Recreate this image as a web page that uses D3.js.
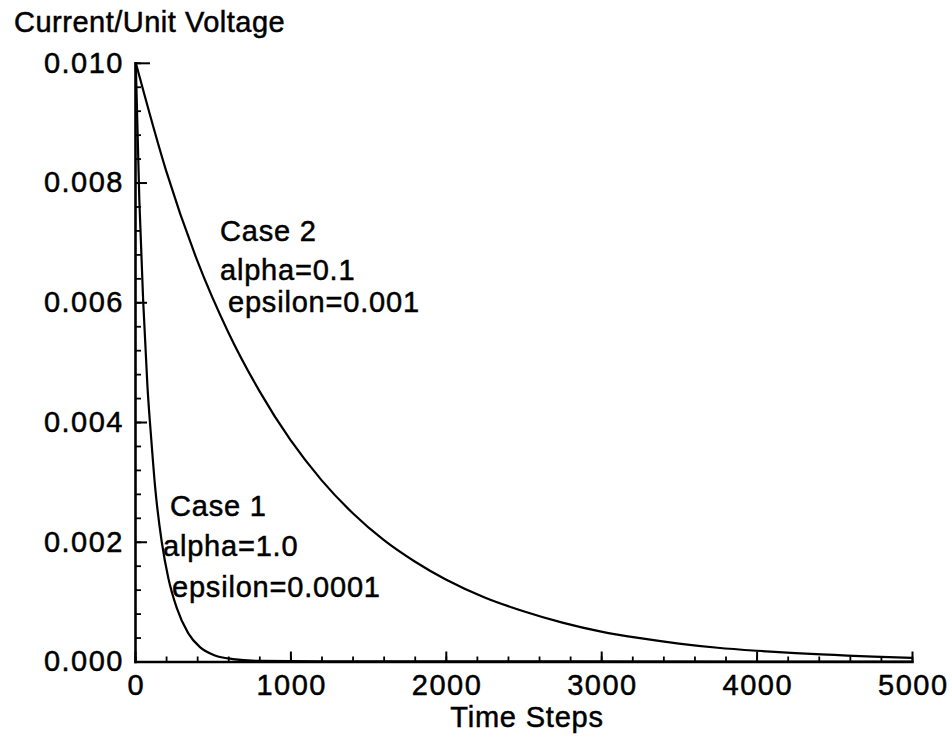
<!DOCTYPE html>
<html>
<head>
<meta charset="utf-8">
<script src="https://cdn.jsdelivr.net/npm/d3@7"></script>
<style>
  html, body { margin: 0; padding: 0; background: #fff; }
  svg text { font-family: "Liberation Sans", Arial, Helvetica, sans-serif; fill: #000;
             stroke: #000; stroke-width: 0.5px; letter-spacing: 0.8px; }
</style>
</head>
<body>
<svg id="chart" width="952" height="740"></svg>
<script>
// Case 1: alpha = 1.0, epsilon = 0.0001 (fast decay)
const case1Steps   = [5, 28, 53, 80, 105, 130, 172, 214, 268, 343, 418, 515, 631, 800, 1200, 5000];
const case1Current = [0.0100, 0.00770, 0.00600, 0.00460, 0.00370, 0.00290, 0.00200, 0.00140,
                      0.00090, 0.00047, 0.00024, 0.00010, 0.00004, 0.00001, 0.000002, 0];

// Case 2: alpha = 0.1, epsilon = 0.001 (slow decay)
const case2Steps   = [5, 200, 400, 600, 800, 1000, 1200, 1400, 1600, 1800, 2000, 2250, 2500,
                      2750, 3000, 3250, 3500, 3750, 4000, 4250, 4500, 4750, 5000];
const case2Current = [0.0100, 0.00820, 0.00670, 0.00550, 0.00452, 0.00370, 0.00303, 0.00248,
                      0.00203, 0.00167, 0.00137, 0.00107, 0.00084, 0.00065, 0.00050, 0.00039,
                      0.00030, 0.00023, 0.00018, 0.00014, 0.00011, 0.00008, 0.00006];

const xTickValues = [0, 1000, 2000, 3000, 4000, 5000];
const xMinorTicks = d3.range(0, 5001, 200);
const yTickValues = [0, 0.002, 0.004, 0.006, 0.008, 0.010];
const yMinorTicks = d3.range(0, 51, 2).map(i => i * 0.0002);

const yAxisTitle = "Current/Unit Voltage";
const xAxisTitle = "Time Steps";
const case1Notes = ["Case 1", "alpha=1.0", "epsilon=0.0001"];
const case2Notes = ["Case 2", "alpha=0.1", "epsilon=0.001"];

const svg = d3.select("#chart");
const fontSize = 29;

const x = d3.scaleLinear().domain([0, 5000]).range([135, 912]);
const y = d3.scaleLinear().domain([0, 0.010]).range([661.5, 62.8]);

// minor ticks, pointing into the plot
const yMinor = svg.append("g").attr("transform", `translate(${x(0)},0)`)
  .call(d3.axisLeft(y).tickValues(yMinorTicks).tickFormat("").tickSizeInner(-6).tickSizeOuter(0));
yMinor.select(".domain").remove();
yMinor.selectAll("line").attr("stroke", "#000").attr("stroke-width", 1.8);

const xMinor = svg.append("g").attr("transform", `translate(0,${y(0)})`)
  .call(d3.axisBottom(x).tickValues(xMinorTicks).tickFormat("").tickSizeInner(-5).tickSizeOuter(0));
xMinor.select(".domain").remove();
xMinor.selectAll("line").attr("stroke", "#000").attr("stroke-width", 1.8);

// major axes
const yAxis = svg.append("g").attr("transform", `translate(${x(0)},0)`)
  .call(d3.axisLeft(y).tickValues(yTickValues).tickFormat(d3.format(".3f"))
    .tickSizeInner(-12).tickSizeOuter(0).tickPadding(11));
const xAxis = svg.append("g").attr("transform", `translate(0,${y(0)})`)
  .call(d3.axisBottom(x).tickValues(xTickValues).tickFormat(d3.format("d"))
    .tickSizeInner(-10).tickSizeOuter(0).tickPadding(13));

// the top tick of the vertical axis runs a little further in
yAxis.selectAll(".tick").filter(d => d === 0.010).select("line").attr("x2", 15);

[yAxis, xAxis].forEach(g => {
  g.select(".domain").attr("stroke", "#000").attr("stroke-width", 2.6).attr("stroke-linecap", "square");
  g.selectAll(".tick line").attr("stroke", "#000").attr("stroke-width", 2);
  g.selectAll(".tick text").attr("font-size", fontSize).attr("fill", "#000")
    .style("font-family", '"Liberation Sans", Arial, Helvetica, sans-serif')
    .style("letter-spacing", "1.5px");
});
xAxis.selectAll(".tick text").attr("dx", "0.75");

// decay curves
const line = d3.line().x(d => x(d[0])).y(d => y(d[1])).curve(d3.curveMonotoneX);
const series = [d3.zip(case1Steps, case1Current), d3.zip(case2Steps, case2Current)];
svg.append("g").selectAll("path").data(series).join("path")
  .attr("d", line)
  .attr("fill", "none")
  .attr("stroke", "#000")
  .attr("stroke-width", 2.2)
  .attr("stroke-linejoin", "round");

// axis titles
svg.append("text").attr("x", 14).attr("y", 32).attr("font-size", fontSize)
  .style("letter-spacing", "0.5px").text(yAxisTitle);
svg.append("text").attr("x", 527).attr("y", 727).attr("text-anchor", "middle")
  .attr("font-size", fontSize).text(xAxisTitle);

// case annotations
const notePos2 = [[220, 241], [220, 280], [228, 312]];
const notePos1 = [[170, 516], [163, 556], [172, 597]];
svg.append("g").selectAll("text").data(case2Notes).join("text")
  .attr("x", (d, i) => notePos2[i][0]).attr("y", (d, i) => notePos2[i][1])
  .attr("font-size", fontSize).text(d => d);
svg.append("g").selectAll("text").data(case1Notes).join("text")
  .attr("x", (d, i) => notePos1[i][0]).attr("y", (d, i) => notePos1[i][1])
  .attr("font-size", fontSize).text(d => d);
</script>
</body>
</html>
